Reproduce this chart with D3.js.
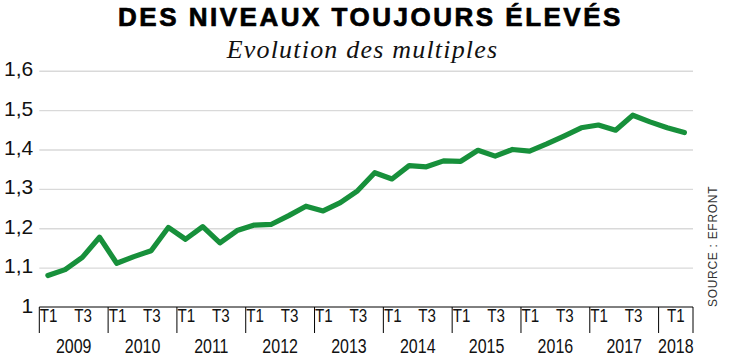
<!DOCTYPE html>
<html>
<head>
<meta charset="utf-8">
<script src="https://cdn.jsdelivr.net/npm/d3@7"></script>
<style>
  body { margin: 0; background: #fff; }
  svg { display: block; }
</style>
</head>
<body>
<div id="chart"></div>
<script>
// data
var years = [2009, 2010, 2011, 2012, 2013, 2014, 2015, 2016, 2017, 2018];
var quartersPerYear = [4, 4, 4, 4, 4, 4, 4, 4, 4, 2];
var quarterNames = ["T1", "T2", "T3", "T4"];
var shownQuarters = ["T1", "T3"];
var values = [
  1.080, 1.095, 1.126, 1.177,
  1.111, 1.128, 1.143, 1.202,
  1.172, 1.204, 1.163, 1.194,
  1.208, 1.210, 1.232, 1.256,
  1.244, 1.265, 1.295, 1.341,
  1.325, 1.359, 1.356, 1.371,
  1.370, 1.398, 1.383, 1.400,
  1.396, 1.414, 1.434, 1.455,
  1.462, 1.449, 1.487, 1.470,
  1.455, 1.443
];
var yTicks = [1, 1.1, 1.2, 1.3, 1.4, 1.5, 1.6];

var title = "DES NIVEAUX TOUJOURS ÉLEVÉS";
var subtitle = "Evolution des multiples";
var source = "SOURCE : EFRONT";

var width = 735, height = 359;
var plotLeft = 39.3, plotRight = 693, plotTop = 70.7, plotBottom = 307;
var squeeze = 0.82; // condensed look for the x labels

// one entry per quarter
var periods = [];
years.forEach(function (yr, i) {
  for (var q = 0; q < quartersPerYear[i]; q++) {
    periods.push({ year: yr, q: quarterNames[q], key: yr + "-" + quarterNames[q] });
  }
});
var data = periods.map(function (p, i) {
  return { key: p.key, year: p.year, q: p.q, value: values[i] };
});

var fr = d3.formatLocale({ decimal: ",", thousands: " ", grouping: [3], currency: ["", " €"] });
var fmt = fr.format(".1~f");

var svg = d3.select("#chart").append("svg")
  .attr("width", width)
  .attr("height", height);

var x = d3.scaleBand()
  .domain(periods.map(function (p) { return p.key; }))
  .range([plotLeft, plotRight]);

var y = d3.scaleLinear()
  .domain([1, 1.6])
  .range([plotBottom, plotTop]);

// titles
svg.append("text")
  .attr("x", 370.5)
  .attr("y", 26)
  .attr("text-anchor", "middle")
  .style("font-family", "'Liberation Sans', Arial, sans-serif")
  .style("font-weight", "bold")
  .style("font-size", "26px")
  .style("letter-spacing", "2.5px")
  .style("fill", "#000")
  .style("stroke", "#000")
  .style("stroke-width", "0.7px")
  .text(title);

svg.append("text")
  .attr("x", 362.5)
  .attr("y", 58)
  .attr("text-anchor", "middle")
  .style("font-family", "'Liberation Serif', 'Times New Roman', serif")
  .style("font-style", "italic")
  .style("font-size", "26px")
  .style("letter-spacing", "1.2px")
  .style("fill", "#111")
  .text(subtitle);

// gridlines + y labels
var yAxis = svg.append("g")
  .attr("transform", "translate(" + plotLeft + ",0)")
  .call(d3.axisLeft(y).tickValues(yTicks).tickSize(-(plotRight - plotLeft)).tickPadding(6).tickFormat(fmt));
yAxis.select(".domain").remove();
yAxis.selectAll(".tick line")
  .attr("stroke", "#d9d9d9")
  .attr("stroke-width", 1.4)
  .attr("opacity", function (d) { return d === 1 ? 0 : 1; });
yAxis.selectAll(".tick text")
  .attr("dy", "0.24em")
  .style("font-family", "'Liberation Sans', Arial, sans-serif")
  .style("font-size", "21px")
  .style("fill", "#111");

// line
var line = d3.line()
  .x(function (d) { return x(d.key) + x.bandwidth() / 2; })
  .y(function (d) { return y(d.value); });

svg.append("path")
  .datum(data)
  .attr("d", line)
  .attr("fill", "none")
  .attr("stroke", "#17903b")
  .attr("stroke-width", 5.2)
  .attr("stroke-linejoin", "round")
  .attr("stroke-linecap", "round");

// x axis: baseline, year dividers, quarter and year labels
var xg = svg.append("g");
xg.append("line")
  .attr("x1", plotLeft).attr("x2", plotRight)
  .attr("y1", plotBottom).attr("y2", plotBottom)
  .attr("stroke", "#000").attr("stroke-width", 1);

var spans = years.map(function (yr) {
  var keys = periods.filter(function (p) { return p.year === yr; }).map(function (p) { return p.key; });
  return { year: yr, x0: x(keys[0]), x1: x(keys[keys.length - 1]) + x.bandwidth(), n: keys.length };
});
var bounds = spans.map(function (s) { return s.x0; }).concat([plotRight]);

xg.selectAll(".div")
  .data(bounds)
  .enter().append("line")
  .attr("x1", function (d) { return d; })
  .attr("x2", function (d) { return d; })
  .attr("y1", plotBottom)
  .attr("y2", plotBottom + 26)
  .attr("stroke", "#000")
  .attr("stroke-width", 1);

var qLabels = data.filter(function (d) { return shownQuarters.indexOf(d.q) >= 0; });
xg.selectAll(".ql")
  .data(qLabels)
  .enter().append("text")
  .attr("transform", function (d) {
    var s = spans.find(function (s) { return s.year === d.year; });
    var cx = s.n < 4 ? (s.x0 + s.x1) / 2 : x(d.key) + x.bandwidth() / 2 + 0.8;
    return "translate(" + cx + ",322) scale(" + squeeze + ",1)";
  })
  .attr("text-anchor", "middle")
  .style("font-family", "'Liberation Sans', Arial, sans-serif")
  .style("font-size", "18.5px")
  .style("fill", "#111")
  .text(function (d) { return d.q; });

xg.selectAll(".yl")
  .data(spans)
  .enter().append("text")
  .attr("transform", function (d) {
    return "translate(" + (d.x0 + d.x1) / 2 + ",353) scale(" + squeeze + ",1)";
  })
  .attr("text-anchor", "middle")
  .style("font-family", "'Liberation Sans', Arial, sans-serif")
  .style("font-size", "19.5px")
  .style("fill", "#111")
  .text(function (d) { return d.year; });

// source
svg.append("text")
  .attr("transform", "translate(717,307) rotate(-90)")
  .attr("text-anchor", "start")
  .style("font-family", "'Liberation Sans', Arial, sans-serif")
  .style("font-size", "12px")
  .style("letter-spacing", "0.7px")
  .style("fill", "#333")
  .text(source);
</script>
</body>
</html>
